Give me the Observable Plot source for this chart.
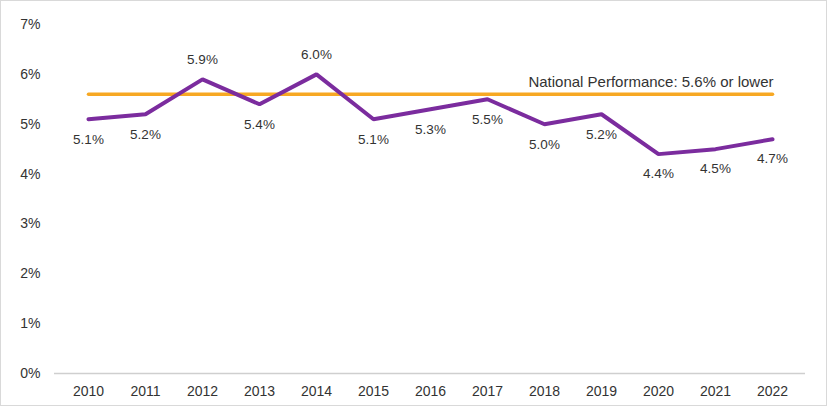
<!DOCTYPE html>
<html>
<head>
<meta charset="utf-8">
<script src="https://cdn.jsdelivr.net/npm/d3@7"></script>
<script src="https://cdn.jsdelivr.net/npm/@observablehq/plot@0.6"></script>
<style>
  html, body { margin: 0; padding: 0; background: #fff; }
  #wrap { position: relative; width: 830px; height: 407px; }
  #border { position: absolute; left: 0; top: 0; width: 827px; height: 406px; border: 1.5px solid #d9d9d9; box-sizing: border-box; pointer-events: none; }
  svg { display: block; }
</style>
</head>
<body>
<div id="wrap"><div id="border"></div></div>
<script>
const years = ["2010","2011","2012","2013","2014","2015","2016","2017","2018","2019","2020","2021","2022"];
const rates = [5.1, 5.2, 5.9, 5.4, 6.0, 5.1, 5.3, 5.5, 5.0, 5.2, 4.4, 4.5, 4.7];
const labelAbove = [false, false, true, false, true, false, false, false, false, false, false, false, false];
const nationalTarget = 5.6;
const nationalLabel = "National Performance: 5.6% or lower";
const yTicks = [0, 1, 2, 3, 4, 5, 6, 7];
const baseline = [0];

const data = years.map((y, i) => ({year: y, value: rates[i] / 100, above: labelAbove[i]}));
const national = years.map(y => ({year: y, value: nationalTarget / 100}));

const font = "'Liberation Sans', Arial, sans-serif";
const textColor = "#333333";

const chart = Plot.plot({
  width: 830,
  height: 407,
  marginLeft: 54,
  marginRight: 25,
  marginTop: 24,
  marginBottom: 34,
  style: {fontFamily: font, fontSize: "14px", color: textColor, background: "transparent"},
  x: {type: "point", domain: years, padding: 0.5, label: null},
  y: {domain: [0, 0.07], label: null},
  marks: [
    Plot.axisY({ticks: yTicks.map(d => d / 100), tickFormat: d => Math.round(d * 100) + "%", tickSize: 0, tickPadding: 14, fontSize: 14, label: null}),
    Plot.axisX({tickSize: 0, tickPadding: 13, fontSize: 14, label: null}),
    Plot.ruleY(baseline, {stroke: "#cfcfcf", strokeWidth: 1.5}),
    Plot.line(national, {x: "year", y: "value", stroke: "#f7a823", strokeWidth: 3.5}),
    Plot.text([national[national.length - 1]], {x: "year", y: "value", text: () => nationalLabel, textAnchor: "end", dy: -12, dx: 1, fill: textColor, fontSize: 15}),
    Plot.line(data, {x: "year", y: "value", stroke: "#7b2c9e", strokeWidth: 4, strokeLinejoin: "miter"}),
    Plot.text(data.filter(d => !d.above), {x: "year", y: "value", text: d => (d.value * 100).toFixed(1) + "%", dy: 20, fill: textColor, fontSize: 13.5}),
    Plot.text(data.filter(d => d.above), {x: "year", y: "value", text: d => (d.value * 100).toFixed(1) + "%", dy: -20, fill: textColor, fontSize: 13.5})
  ]
});
document.getElementById("wrap").prepend(chart);
</script>
</body>
</html>
